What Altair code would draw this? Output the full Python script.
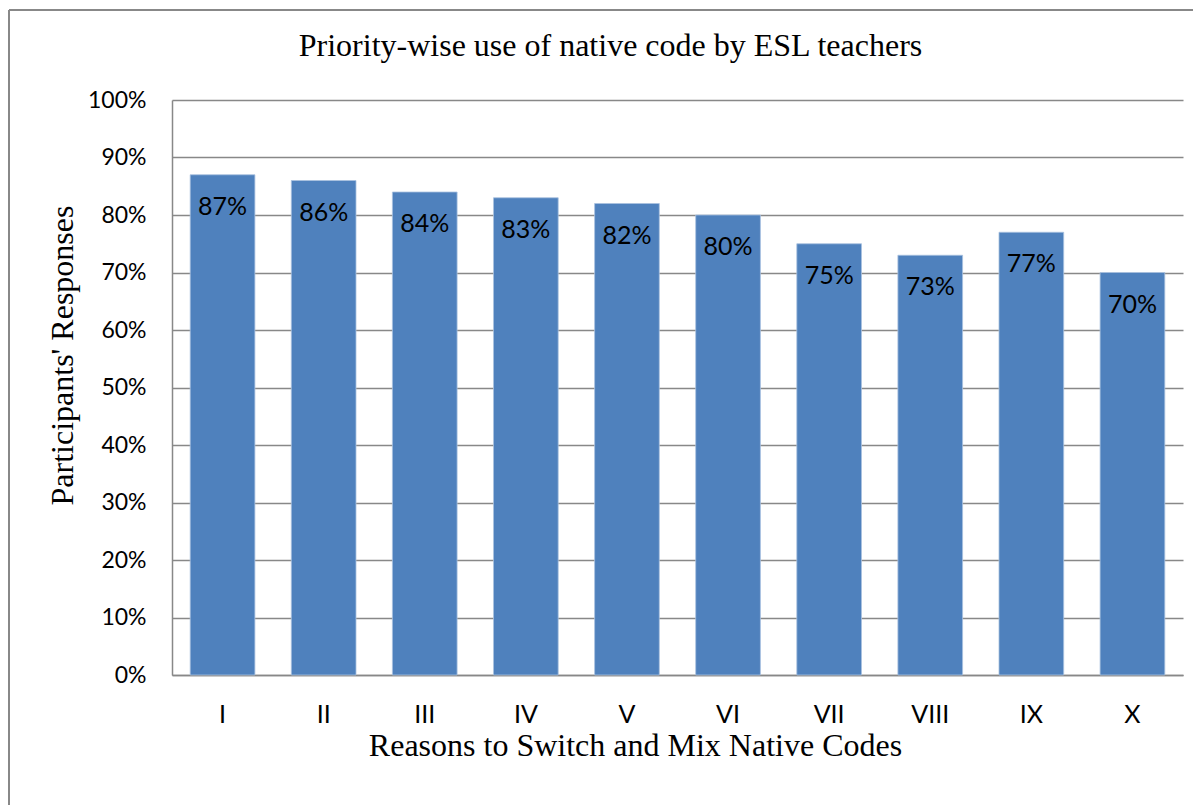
import altair as alt
import pandas as pd

categories = ["I", "II", "III", "IV", "V", "VI", "VII", "VIII", "IX", "X"]
values = [0.87, 0.86, 0.84, 0.83, 0.82, 0.80, 0.75, 0.73, 0.77, 0.70]
labels = ["87%", "86%", "84%", "83%", "82%", "80%", "75%", "73%", "77%", "70%"]

df = pd.DataFrame({"cat": categories, "val": values, "lab": labels})

W, H = 1011, 575

x = alt.X("cat:N", sort=categories, scale=alt.Scale(paddingInner=0.36, paddingOuter=0.18),
          axis=alt.Axis(title="Reasons to Switch and Mix Native Codes", labelAngle=0,
                        labelFont="Lato", labelFontSize=25, labelColor="black",
                        labelPadding=27, ticks=False, domainColor="#888888", domainWidth=1.5,
                        grid=False,
                        titleFont="Liberation Serif", titleFontSize=32, titleFontWeight="normal",
                        titleColor="black", titleX=463, titleY=70, titleBaseline="middle",
                        titleAlign="center"))
y = alt.Y("val:Q", scale=alt.Scale(domain=[0, 1]),
          axis=alt.Axis(title="Participants' Responses", format=".0%",
                        values=[i / 10 for i in range(11)],
                        labelFont="Lato", labelFontSize=23, labelColor="black",
                        labelPadding=26, ticks=False, domainColor="#888888", domainWidth=1.5,
                        grid=True, gridColor="#888888", gridWidth=1.5,
                        titleFont="Liberation Serif", titleFontSize=32, titleFontWeight="normal",
                        titleColor="black", titleX=-110, titleY=255, titleAngle=270,
                        titleBaseline="middle", titleAlign="center"))

bars = alt.Chart(df).mark_bar(color="#4F81BD", stroke="#A9C1E0", strokeWidth=0.8).encode(x=x, y=y)
text = alt.Chart(df).mark_text(font="Lato", fontSize=25, color="black", baseline="middle", dy=32).encode(
    x=x, y=y, text="lab:N")

frame_df = pd.DataFrame({"k": [0]})
left_line = alt.Chart(frame_df).mark_rule(color="#888888", strokeWidth=2, clip=False).encode(
    x=alt.value(-163), y=alt.value(-90), y2=alt.value(720))
top_line = alt.Chart(frame_df).mark_rule(color="#888888", strokeWidth=2, clip=False).encode(
    x=alt.value(-163), x2=alt.value(1040), y=alt.value(-90))

chart = alt.layer(bars, text, left_line, top_line).properties(
    width=W, height=H,
    title=alt.TitleParams("Priority-wise use of native code by ESL teachers",
                          font="Liberation Serif", fontSize=32, fontWeight="normal",
                          color="black", anchor="middle", dx=-67, offset=-54),
    autosize=alt.AutoSizeParams(type="none"),
    padding={"left": 164, "top": 92, "right": 10, "bottom": 135},
).configure_view(stroke=None)

chart.save("out.html", embed_options={"renderer": "svg", "actions": False})
